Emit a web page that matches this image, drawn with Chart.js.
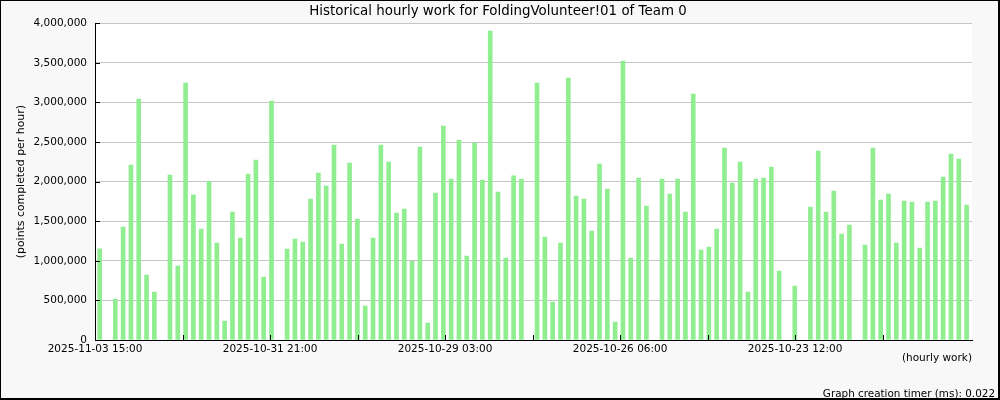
<!DOCTYPE html>
<html>
<head>
<meta charset="utf-8">
<title>Historical hourly work</title>
<script src="https://cdn.jsdelivr.net/npm/chart.js@4.4.1/dist/chart.umd.min.js"></script>
<style>
    html, body { margin: 0; padding: 0; background: #fff; }
    #wrap {
        position: relative;
        width: 1000px;
        height: 400px;
        background: #f8f8f8;
    }
    #frame {
        position: absolute;
        left: 0; top: 0; right: 0; bottom: 0;
        border-left: 1px solid #000;
        border-top: 1px solid #000;
        border-right: 2px solid #000;
        border-bottom: 2px solid #000;
        pointer-events: none;
    }
    #title {
        position: absolute;
        left: 0;
        top: 3px;
        width: 996px;
        text-align: center;
        font: 13.4px "DejaVu Sans", sans-serif;
        line-height: 16px;
        color: #000;
    }
    #timer {
        position: absolute;
        right: 5px;
        top: 387px;
        font: 10.4px "DejaVu Sans", sans-serif;
        line-height: 12px;
        color: #000;
    }
</style>
</head>
<body>
<div id="wrap">
    <canvas id="workChart" width="1000" height="400"></canvas>
    <div id="title">Historical hourly work for FoldingVolunteer!01 of Team 0</div>
    <div id="timer">Graph creation timer (ms): 0.022</div>
    <div id="frame"></div>
</div>
<script>
// Puntos por hora, del más reciente (izquierda) al más antiguo (derecha); null = sin trabajo
const hourlyPoints = [
    1150000, null, 518000, 1427000, 2210000, 3044000, 821000, 606000, null, 2084000,
    935000, 3246000, 1832000, 1402000, 2004000, 1225000, 240000, 1617000, 1288000, 2097000,
    2274000, 796000, 3019000, null, 1149000, 1276000, 1238000, 1781000, 2109000, 1945000,
    2463000, 1213000, 2236000, 1528000, 429000, 1288000, 2463000, 2248000, 1604000, 1655000,
    994000, 2438000, 215000, 1857000, 2703000, 2034000, 2526000, 1061000, 2488000, 2021000,
    3903000, 1869000, 1036000, 2072000, 2034000, null, 3246000, 1301000, 480000, 1225000,
    3309000, 1819000, 1781000, 1377000, 2223000, 1907000, 227000, 3524000, 1036000, 2046000,
    1693000, null, 2034000, 1844000, 2034000, 1617000, 3107000, 1137000, 1175000, 1402000,
    2425000, 1983000, 2248000, 606000, 2034000, 2046000, 2185000, 872000, null, 682000,
    null, 1680000, 2387000, 1617000, 1882000, 1339000, 1453000, null, 1200000, 2425000,
    1768000, 1844000, 1225000, 1756000, 1743000, 1162000, 1743000, 1756000, 2059000, 2349000,
    2286000, 1705000
];

// Etiquetas del eje X (cada 66 h); marcas sin etiqueta en medio (cada 33 h)
const timeLabels = ['2025-11-03 15:00', '2025-10-31 21:00', '2025-10-29 03:00', '2025-10-26 06:00', '2025-10-23 12:00'];
const tickHours = [0, 33, 66, 99, 132, 165, 198, 231, 264, 297];

// Eje Y
const yTicks = [0, 500000, 1000000, 1500000, 2000000, 2500000, 3000000, 3500000, 4000000];

const HOURS_PER_BAR = 2.945;
const SPAN_HOURS = 330.7;

document.addEventListener('DOMContentLoaded', function() {
    Chart.defaults.font.family = '"DejaVu Sans", sans-serif';
    Chart.defaults.color = '#000';

    const points = hourlyPoints.map(function(v, i) {
        return { x: (i + 0.6) * HOURS_PER_BAR, y: v };
    });

    // Fondo blanco del área de la gráfica
    const plotBackground = {
        id: 'plotBackground',
        beforeDraw: function(chart) {
            const a = chart.chartArea;
            const ctx = chart.ctx;
            ctx.save();
            ctx.fillStyle = '#ffffff';
            ctx.fillRect(a.left, a.top, a.right - a.left, a.bottom - a.top);
            ctx.restore();
        }
    };

    // Marcas de escala hacia dentro, como en rrdtool
    const innerTicks = {
        id: 'innerTicks',
        afterDraw: function(chart) {
            const ctx = chart.ctx;
            const x = chart.scales.x;
            const y = chart.scales.y;
            const a = chart.chartArea;
            ctx.save();
            ctx.strokeStyle = '#000';
            ctx.lineWidth = 1;
            ctx.beginPath();
            tickHours.forEach(function(h) {
                const px = Math.round(x.getPixelForValue(h)) + 0.5;
                ctx.moveTo(px, a.bottom);
                ctx.lineTo(px, a.bottom - 5);
            });
            yTicks.forEach(function(v) {
                const py = Math.round(y.getPixelForValue(v)) + 0.5;
                ctx.moveTo(a.left, py);
                ctx.lineTo(a.left + 5, py);
            });
            ctx.stroke();
            ctx.restore();
        }
    };

    new Chart(document.getElementById('workChart'), {
        type: 'bar',
        data: {
            datasets: [{
                label: 'Hourly work',
                data: points,
                backgroundColor: '#90ee90',
                borderWidth: 0,
                barThickness: 4
            }]
        },
        options: {
            responsive: false,
            animation: false,
            layout: {
                padding: { left: 0, right: 28, top: 23.3, bottom: 0 }
            },
            plugins: {
                legend: { display: false },
                tooltip: { enabled: false },
                title: { display: false }
            },
            scales: {
                x: {
                    type: 'linear',
                    min: 0,
                    max: SPAN_HOURS,
                    offset: false,
                    grid: { display: false, offset: false, drawTicks: false },
                    border: { display: true, color: '#000', width: 1 },
                    afterBuildTicks: function(scale) {
                        scale.ticks = tickHours.map(function(h) { return { value: h }; });
                    },
                    afterFit: function(scale) {
                        scale.height = 60;
                    },
                    ticks: {
                        autoSkip: false,
                        maxRotation: 0,
                        padding: 3,
                        font: { size: 10.5 },
                        callback: function(value, index) {
                            return index % 2 === 0 ? timeLabels[index / 2] : '';
                        }
                    },
                    title: {
                        display: true,
                        text: '(hourly work)',
                        align: 'end',
                        font: { size: 10.5 },
                        padding: { top: 0, bottom: 35 }
                    }
                },
                y: {
                    min: 0,
                    max: 4000000,
                    grid: { color: '#c6c6c6', drawTicks: false },
                    border: { display: true, color: '#000', width: 1 },
                    afterBuildTicks: function(scale) {
                        scale.ticks = yTicks.map(function(v) { return { value: v }; });
                    },
                    afterFit: function(scale) {
                        scale.width = 95;
                    },
                    ticks: {
                        padding: 8,
                        font: { size: 10.5 },
                        callback: function(value) {
                            return value.toLocaleString('en-US');
                        }
                    },
                    title: {
                        display: true,
                        text: '(points completed per hour)',
                        font: { size: 10.9 },
                        padding: { top: 15, bottom: 0 }
                    }
                }
            }
        },
        plugins: [plotBackground, innerTicks]
    });
});
</script>
</body>
</html>
